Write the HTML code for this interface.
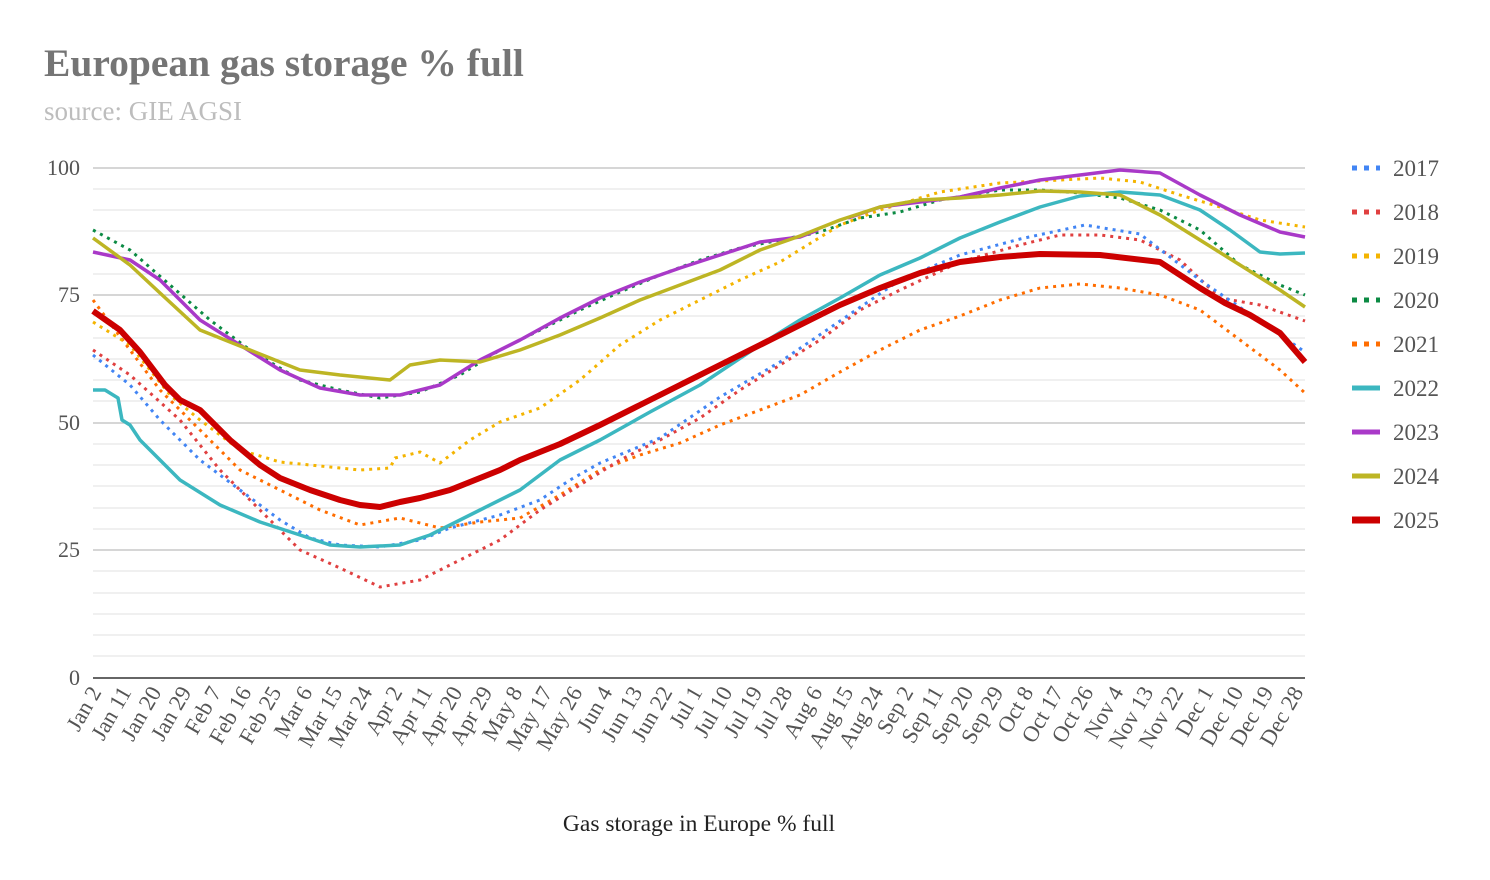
<!DOCTYPE html>
<html><head><meta charset="utf-8"><style>
body{margin:0;background:#fff;}
svg{display:block;font-family:"Liberation Serif",serif;}
</style></head><body>
<svg width="1490" height="880" viewBox="0 0 1490 880">
<text x="44" y="76" font-size="39.5" font-weight="bold" fill="#757575">European gas storage % full</text>
<text x="44" y="120" font-size="27" fill="#bdbdbd">source: GIE AGSI</text>
<g stroke="#e0e0e0" stroke-width="1">
<line x1="93" x2="1305" y1="189" y2="189"/><line x1="93" x2="1305" y1="210" y2="210"/><line x1="93" x2="1305" y1="231" y2="231"/><line x1="93" x2="1305" y1="253" y2="253"/><line x1="93" x2="1305" y1="274" y2="274"/>
<line x1="93" x2="1305" y1="316" y2="316"/><line x1="93" x2="1305" y1="338" y2="338"/><line x1="93" x2="1305" y1="359" y2="359"/><line x1="93" x2="1305" y1="380" y2="380"/><line x1="93" x2="1305" y1="401" y2="401"/>
<line x1="93" x2="1305" y1="444" y2="444"/><line x1="93" x2="1305" y1="465" y2="465"/><line x1="93" x2="1305" y1="486" y2="486"/><line x1="93" x2="1305" y1="508" y2="508"/><line x1="93" x2="1305" y1="529" y2="529"/>
<line x1="93" x2="1305" y1="571" y2="571"/><line x1="93" x2="1305" y1="593" y2="593"/><line x1="93" x2="1305" y1="614" y2="614"/><line x1="93" x2="1305" y1="635" y2="635"/><line x1="93" x2="1305" y1="656" y2="656"/>
</g>
<g stroke="#bdbdbd" stroke-width="1.2">
<line x1="93" x2="1305" y1="168" y2="168"/><line x1="93" x2="1305" y1="295" y2="295"/><line x1="93" x2="1305" y1="423" y2="423"/><line x1="93" x2="1305" y1="550" y2="550"/>
</g>
<line x1="93" x2="1305" y1="678" y2="678" stroke="#333" stroke-width="1.5"/>
<g font-size="22" fill="#555" text-anchor="end">
<text x="80" y="175">100</text><text x="80" y="302">75</text><text x="80" y="430">50</text><text x="80" y="557">25</text><text x="80" y="685">0</text>
</g>
<g font-size="22.5" fill="#555" text-anchor="end">
<text transform="translate(102,692) rotate(-60)">Jan 2</text>
<text transform="translate(132,692) rotate(-60)">Jan 11</text>
<text transform="translate(162,692) rotate(-60)">Jan 20</text>
<text transform="translate(192,692) rotate(-60)">Jan 29</text>
<text transform="translate(222,692) rotate(-60)">Feb 7</text>
<text transform="translate(252,692) rotate(-60)">Feb 16</text>
<text transform="translate(282,692) rotate(-60)">Feb 25</text>
<text transform="translate(313,692) rotate(-60)">Mar 6</text>
<text transform="translate(343,692) rotate(-60)">Mar 15</text>
<text transform="translate(373,692) rotate(-60)">Mar 24</text>
<text transform="translate(403,692) rotate(-60)">Apr 2</text>
<text transform="translate(433,692) rotate(-60)">Apr 11</text>
<text transform="translate(463,692) rotate(-60)">Apr 20</text>
<text transform="translate(493,692) rotate(-60)">Apr 29</text>
<text transform="translate(523,692) rotate(-60)">May 8</text>
<text transform="translate(553,692) rotate(-60)">May 17</text>
<text transform="translate(583,692) rotate(-60)">May 26</text>
<text transform="translate(613,692) rotate(-60)">Jun 4</text>
<text transform="translate(643,692) rotate(-60)">Jun 13</text>
<text transform="translate(673,692) rotate(-60)">Jun 22</text>
<text transform="translate(703,692) rotate(-60)">Jul 1</text>
<text transform="translate(733,692) rotate(-60)">Jul 10</text>
<text transform="translate(763,692) rotate(-60)">Jul 19</text>
<text transform="translate(793,692) rotate(-60)">Jul 28</text>
<text transform="translate(823,692) rotate(-60)">Aug 6</text>
<text transform="translate(854,692) rotate(-60)">Aug 15</text>
<text transform="translate(884,692) rotate(-60)">Aug 24</text>
<text transform="translate(914,692) rotate(-60)">Sep 2</text>
<text transform="translate(944,692) rotate(-60)">Sep 11</text>
<text transform="translate(974,692) rotate(-60)">Sep 20</text>
<text transform="translate(1004,692) rotate(-60)">Sep 29</text>
<text transform="translate(1034,692) rotate(-60)">Oct 8</text>
<text transform="translate(1064,692) rotate(-60)">Oct 17</text>
<text transform="translate(1094,692) rotate(-60)">Oct 26</text>
<text transform="translate(1124,692) rotate(-60)">Nov 4</text>
<text transform="translate(1154,692) rotate(-60)">Nov 13</text>
<text transform="translate(1184,692) rotate(-60)">Nov 22</text>
<text transform="translate(1214,692) rotate(-60)">Dec 1</text>
<text transform="translate(1244,692) rotate(-60)">Dec 10</text>
<text transform="translate(1274,692) rotate(-60)">Dec 19</text>
<text transform="translate(1304,692) rotate(-60)">Dec 28</text>
</g>
<text x="699" y="831" font-size="23.5" fill="#222" text-anchor="middle">Gas storage in Europe % full</text>
<g fill="none" stroke-linejoin="round">
<polyline stroke="#ff6d00" stroke-width="3" stroke-dasharray="3,5" points="93,300 130,350 160,390 200,430 240,470 280,490 320,510 360,525 400,518 440,528 480,522 520,518 560,495 600,470 640,455 680,443 720,425 760,410 800,395 840,372 880,350 920,330 960,316 1000,300 1040,288 1080,284 1120,288 1160,295 1200,310 1240,340 1280,370 1305,393"/>
<polyline stroke="#e04040" stroke-width="3" stroke-dasharray="3,5" points="93,350 130,375 180,420 220,470 260,510 300,550 340,568 380,587 420,580 450,565 500,540 540,510 580,485 620,460 660,440 700,418 740,390 780,365 820,340 860,310 900,290 960,262 1020,245 1060,235 1100,235 1140,240 1180,260 1220,298 1260,305 1305,321"/>
<polyline stroke="#4285f4" stroke-width="3" stroke-dasharray="3,5" points="93,355 130,385 160,420 200,460 240,490 280,520 310,538 340,545 380,547 420,540 450,528 500,515 540,500 570,480 600,463 660,438 720,397 780,362 840,321 900,280 960,255 1020,239 1085,225 1140,234 1200,280 1260,321 1305,352"/>
<polyline stroke="#f4b400" stroke-width="3" stroke-dasharray="3,5" points="93,322 130,345 170,395 200,420 240,450 280,462 320,466 360,470 390,468 395,458 420,452 440,463 470,440 500,422 540,408 580,380 620,345 660,320 700,300 740,280 780,262 840,225 880,210 940,192 1000,183 1060,180 1100,178 1140,182 1180,195 1220,207 1260,220 1305,227"/>
<polyline stroke="#0b8a43" stroke-width="3" stroke-dasharray="3,5" points="93,230 130,250 170,285 210,320 250,350 300,380 340,390 380,398 420,392 460,375 500,350 540,330 580,310 620,292 660,275 700,260 740,248 780,240 820,232 860,218 900,212 940,200 1000,190 1040,190 1080,193 1120,198 1160,210 1200,230 1240,265 1280,285 1305,295"/>
<polyline stroke="#3cb7c0" stroke-width="3.5" points="93,390 105,390 118,398 122,420 130,425 140,440 180,480 220,505 260,522 300,535 330,545 360,547 400,545 430,535 480,510 520,490 560,460 600,440 650,412 700,385 760,345 800,320 840,298 880,275 920,258 960,238 1000,222 1040,207 1080,196 1120,192 1160,195 1200,210 1230,230 1260,252 1280,254 1305,253"/>
<polyline stroke="#a939c8" stroke-width="3.5" points="93,252 130,260 160,280 200,320 240,345 280,370 320,388 360,395 400,395 440,385 480,360 520,340 560,318 600,298 640,282 680,268 720,255 760,242 800,237 818,230"/>
<polyline stroke="#a939c8" stroke-width="3.5" points="848,218 880,207 920,202 960,197 1000,188 1040,180 1080,175 1120,170 1160,173 1200,195 1240,215 1280,232 1305,237"/>
<polyline stroke="#bdb524" stroke-width="3.5" points="93,238 130,265 160,293 200,330 250,350 300,370 340,375 390,380 410,365 440,360 480,362 520,350 560,335 600,318 640,300 680,285 720,270 760,250 800,236 840,220 880,207 920,200 960,198 1000,195 1040,191 1080,192 1120,195 1160,215 1200,240 1240,265 1280,290 1305,307"/>
<polyline stroke="#cc0000" stroke-width="6" points="93,311 120,330 140,352 165,385 180,400 200,410 230,440 260,465 280,478 310,490 340,500 360,505 380,507 400,502 420,498 450,490 480,478 500,470 520,460 560,444 600,425 640,405 680,385 720,365 760,345 800,325 840,305 880,288 920,273 960,262 1000,257 1040,254 1100,255 1160,262 1200,288 1225,303 1250,315 1280,333 1305,362"/>
</g>
<g stroke-width="5">
<line x1="1352" x2="1380" y1="168" y2="168" stroke="#4285f4" stroke-dasharray="5,7"/>
<line x1="1352" x2="1380" y1="212" y2="212" stroke="#e04040" stroke-dasharray="5,7"/>
<line x1="1352" x2="1380" y1="256" y2="256" stroke="#f4b400" stroke-dasharray="5,7"/>
<line x1="1352" x2="1380" y1="300" y2="300" stroke="#0b8a43" stroke-dasharray="5,7"/>
<line x1="1352" x2="1380" y1="344" y2="344" stroke="#ff6d00" stroke-dasharray="5,7"/>
<line x1="1352" x2="1380" y1="388" y2="388" stroke="#3cb7c0"/>
<line x1="1352" x2="1380" y1="432" y2="432" stroke="#a939c8"/>
<line x1="1352" x2="1380" y1="476" y2="476" stroke="#bdb524"/>
<line x1="1352" x2="1380" y1="520" y2="520" stroke="#cc0000" stroke-width="7"/>
</g>
<g font-size="23" fill="#555">
<text x="1393" y="176">2017</text><text x="1393" y="220">2018</text><text x="1393" y="264">2019</text><text x="1393" y="308">2020</text><text x="1393" y="352">2021</text><text x="1393" y="396">2022</text><text x="1393" y="440">2023</text><text x="1393" y="484">2024</text><text x="1393" y="528">2025</text>
</g>
</svg>
</body></html>
